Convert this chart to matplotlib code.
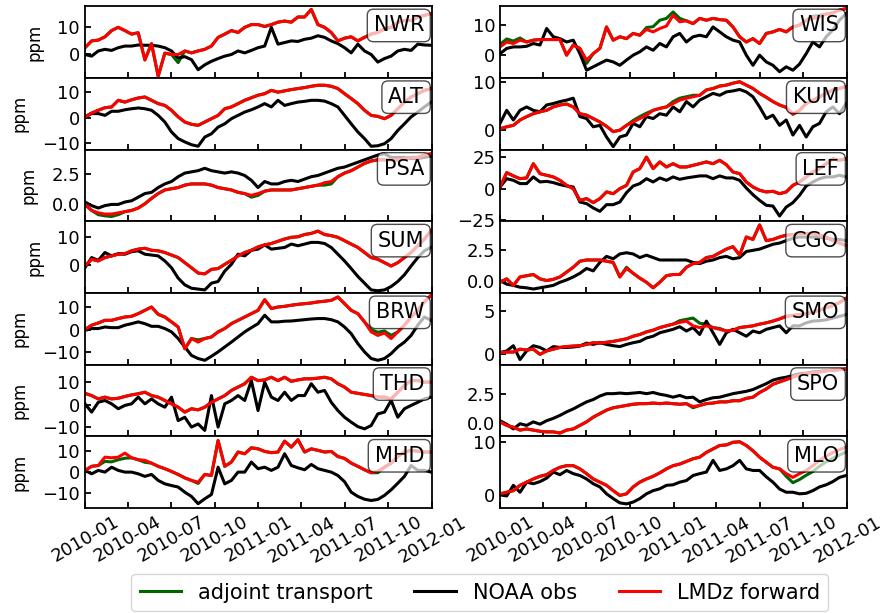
import numpy as np
import pandas as pd
import matplotlib
matplotlib.use('Agg')
import matplotlib.pyplot as plt
import matplotlib.dates as mdates

plt.rcParams['axes.linewidth'] = 1.3

# two-weekly samples, Jan 2010 - Dec 2011
dates = pd.date_range('2010-01-01', periods=53, freq='14D')

left_sites = ['NWR', 'ALT', 'PSA', 'SUM', 'BRW', 'THD', 'MHD']
right_sites = ['WIS', 'KUM', 'LEF', 'CGO', 'SMO', 'SPO', 'MLO']

# NOAA observations (ppm)
obs_nwr = [0, -0.6, 1.3, 1.9, 1.5, 2.5, 3.1, 3.1, 3.5, 3.4, 3.4, 3.1, 2.5, 1.3, -1.3, -0.8, -1.9, -5.6, -3.8, -2.5,
           -1.5, -0.6, 0, 1.3, 0.6, 1.5, 2.5, 3.1, 10.0, 3.8, 4.4, 5.0, 4.8, 5.6, 6.0, 6.9, 6.3, 5.0, 4.0, 2.5,
           0.6, 3.8, 1.3, 0, -2.8, -1.5, -0.6, 1.3, 1.9, 1.5, 3.8, 3.5, 3.4]
obs_alt = [0.3, 1.6, 1.6, 0.9, 2.5, 2.5, 3.1, 3.5, 3.8, 3.5, 2.9, 0.9, -1.7, -5.6, -8.2, -9.5, -10.6, -11.2, -7.6, -6.3,
           -3.7, -2.4, -0.4, 0.9, 2.2, 3.1, 4.2, 5.5, 4.2, 6.8, 4.8, 5.5, 6.1, 6.4, 6.8, 6.8, 6.5, 5.5, 4.2, 0.9,
           -2.4, -5.6, -8.2, -11.2, -11.0, -10.2, -8.2, -5.0, -2.4, 0.3, 2.2, 4.2, 6.1]
obs_psa = [0.2, -0.1, -0.3, -0.1, 0.0, 0.0, 0.2, 0.3, 0.6, 0.9, 1.0, 1.4, 1.7, 1.9, 2.3, 2.6, 2.7, 2.8, 3.0, 2.8,
           2.7, 2.6, 2.7, 2.6, 2.4, 2.0, 1.4, 1.9, 1.7, 1.7, 1.9, 2.0, 1.9, 2.1, 2.3, 2.4, 2.6, 2.8, 3.0, 3.1,
           3.3, 3.5, 3.7, 3.9, 4.1, 4.2, 3.9, 3.9, 3.9, 3.8, 3.8, 3.9, 4.0]
obs_sum = [-0.8, 2.8, 1.8, 4.6, 3.4, 4.2, 4.0, 4.9, 5.2, 4.0, 3.7, 3.4, 1.6, -0.8, -4.5, -6.9, -8.1, -8.4, -8.7, -6.3,
           -5.7, -2.0, 0.4, 4.0, 3.4, 5.4, 5.8, 7.3, 5.8, 6.1, 6.4, 7.6, 7.0, 7.6, 8.2, 8.2, 7.8, 6.4, 4.0, 1.6,
           -1.1, -3.9, -6.3, -8.7, -9.0, -8.7, -7.5, -5.7, -3.3, -0.2, 2.8, 5.2, 6.4]
obs_brw = [-0.3, 0.5, 0.5, 1.2, 0.9, 0.9, 2.0, 2.7, 3.5, 2.7, 1.5, 1.5, 0.5, -1.0, -4.0, -7.8, -11.6, -13.0, -13.8, -12.0,
           -10.0, -7.8, -5.6, -3.3, -1.0, 0.9, 2.7, 6.5, 3.5, 3.5, 3.8, 3.9, 4.2, 4.5, 4.8, 5.0, 5.0, 4.5, 3.5, 1.2,
           -1.8, -6.3, -10.0, -13.0, -13.8, -13.0, -10.8, -7.8, -5.6, -2.6, 2.0, 5.7, 4.2]
obs_thd = [0.3, -3.4, 1.0, 1.8, 0.3, -1.9, -0.4, 0.3, 3.3, 0.3, 2.5, 0.3, -1.2, 3.3, -7.2, -5.7, -10.1, -8.7, -11.6, 4.0,
           -10.1, 0.3, 1.8, 4.0, 1.8, 10.7, -2.7, 10.0, 3.3, 1.8, 5.5, 1.8, 4.0, 4.0, 9.3, 5.5, 6.3, 1.0, -2.7, -5.7,
           -7.9, -9.9, -10.9, -9.4, -4.2, -3.4, 1.8, -5.7, -1.9, -0.4, 1.0, 2.5, 3.3]
obs_mhd = [0.8, -0.8, 0.8, 0.0, 2.3, 0.8, 0.0, 0.0, -0.8, -2.0, -1.1, -3.9, -5.5, -6.3, -7.0, -9.4, -11.4, -14.8, -12.5, -10.5,
           2.3, -5.5, -3.9, 0.0, 0.0, 4.7, 1.6, 2.3, 0.8, 2.3, 8.6, 3.1, 2.0, 1.1, 3.6, 1.6, 0.8, 0.0, -1.6, -4.5,
           -9.4, -11.4, -12.7, -13.3, -12.8, -10.9, -8.3, -5.2, -2.0, 3.1, 0.8, 0.8, 0.0]
obs_wis = [0.5, 2.2, 2.7, 2.7, 2.9, 3.8, 3.3, 8.7, 6.0, 5.4, 4.3, 4.9, 0.5, -4.9, -3.8, -2.7, -1.6, -2.2, -3.3, -1.6,
           0.0, 1.1, 2.7, 1.6, 3.8, 2.7, 6.0, 7.1, 4.3, 6.0, 6.5, 6.0, 9.2, 7.6, 6.0, 4.9, 4.3, 0.0, -3.3, 0.0,
           -2.2, -3.3, -5.4, -3.8, -4.9, -2.9, 0.5, 4.3, 2.7, 6.0, 8.2, 11.4, 13.6]
obs_kum = [1.4, 4.1, 2.1, 4.1, 4.8, 4.1, 3.8, 5.2, 5.5, 5.9, 6.2, 6.6, 2.8, 2.4, 0.7, 1.0, -1.4, -3.4, -1.4, -1.0,
           1.4, 0.7, 2.8, 2.4, 3.4, 3.1, 4.8, 3.8, 5.9, 4.8, 6.2, 6.9, 7.6, 7.2, 7.9, 8.1, 8.4, 7.9, 6.9, 4.8,
           2.4, 3.1, 1.0, 2.1, -1.0, 1.0, -1.4, 0.7, 1.4, 3.8, 4.8, 3.4, 5.5]
obs_lef = [1.3, 7.9, 6.6, 4.0, 4.0, 9.3, 5.3, 5.8, 4.8, 3.2, 2.1, 1.3, -10.6, -11.9, -15.3, -18.0, -12.7, -12.7, -10.6, -3.2,
           2.1, 4.0, 7.9, 5.3, 8.5, 6.6, 9.3, 7.4, 8.5, 9.3, 10.1, 10.1, 7.9, 10.1, 8.5, 8.5, 6.6, 0.5, -4.8, -9.3,
           -13.2, -13.8, -21.7, -14.6, -11.1, -5.3, 2.1, 5.3, 7.9, 9.3, 9.3, 10.6, 9.3]
obs_cgo = [0.0, -0.3, -0.4, -0.55, -0.6, -0.7, -0.6, -0.5, -0.4, -0.14, 0.05, 0.3, 0.6, 1.0, 0.8, 1.5, 2.0, 1.8, 2.2, 2.3,
           2.2, 1.9, 2.1, 1.9, 1.7, 1.7, 1.7, 1.7, 1.7, 1.5, 1.4, 1.6, 1.7, 1.9, 2.0, 1.8, 1.9, 2.4, 2.5, 2.6,
           2.8, 3.0, 3.1, 3.3, 3.5, 3.6, 3.6, 3.6, 3.6, 3.5, 3.4, 3.4, 3.3]
obs_smo = [0.2, 0.4, 1.0, -0.6, 0.4, 1.0, 0.8, 0.4, 0.9, 0.8, 0.8, 0.85, 0.96, 1.3, 1.15, 1.35, 1.15, 1.0, 0.9, 1.15,
           1.35, 1.5, 1.9, 2.1, 2.5, 2.7, 2.9, 3.2, 2.7, 3.1, 2.3, 3.85, 2.5, 1.15, 2.5, 2.9, 2.5, 2.1, 2.7, 2.5,
           2.9, 3.1, 3.3, 2.5, 3.3, 3.3, 3.65, 3.85, 3.9, 4.0, 4.2, 4.4, 4.6]
obs_spo = [0.2, -0.1, -0.5, -0.06, -0.2, 0.1, -0.1, 0.2, 0.4, 0.65, 0.95, 1.2, 1.5, 1.8, 2.0, 2.3, 2.5, 2.5, 2.55, 2.5,
           2.55, 2.6, 2.5, 2.6, 2.45, 2.35, 2.2, 2.35, 2.15, 2.2, 1.8, 2.0, 2.15, 2.2, 2.35, 2.5, 2.6, 2.7, 2.85, 3.1,
           3.35, 3.65, 3.8, 3.9, 4.05, 4.2, 4.25, 4.35, 4.4, 4.45, 4.5, 4.55, 4.6]
obs_mlo = [0.1, -0.1, 1.9, 0.6, 2.5, 2.2, 2.6, 3.25, 4.4, 3.9, 4.7, 4.1, 3.75, 3.1, 2.2, 1.6, 0.3, -0.6, -1.4, -1.6,
           -1.25, -0.6, 0.3, 0.9, 1.25, 1.9, 2.0, 2.5, 2.8, 3.75, 4.1, 4.4, 6.6, 4.7, 5.0, 5.6, 6.6, 5.0, 4.7, 4.7,
           3.5, 2.5, 1.2, 0.6, 0.6, 0.3, 0.4, 0.9, 1.6, 2.0, 2.6, 3.4, 3.75]

# LMDz forward run (ppm)
fwd_nwr = [2.5, 5.0, 5.3, 6.5, 8.8, 10.0, 8.8, 7.5, 8.0, -2.0, 4.0, -8.0, 0.5, 0.0, 0.0, 1.3, 0.6, 1.3, 1.9, 3.1,
           6.3, 7.5, 8.8, 8.1, 10.0, 11.0, 11.0, 10.3, 11.0, 11.9, 12.3, 11.9, 13.8, 13.8, 16.6, 11.0, 10.0, 8.1, 5.0, 6.0,
           6.5, 5.0, 6.3, 7.5, 8.1, 9.4, 10.0, 11.9, 12.5, 12.5, 13.8, 14.4, 15.0]
fwd_alt = [0.3, 1.8, 2.9, 3.9, 4.2, 6.8, 6.1, 7.0, 7.7, 8.1, 6.8, 5.5, 4.8, 2.9, 0.3, -1.7, -2.6, -3.0, -1.7, -0.4,
           0.9, 3.5, 4.2, 5.5, 6.8, 7.8, 8.8, 9.4, 10.7, 10.0, 10.5, 11.0, 11.4, 11.8, 12.3, 12.7, 12.7, 12.3, 11.4, 9.4,
           7.5, 5.5, 2.9, 0.9, 0.5, -0.4, 0.9, 3.5, 6.1, 8.1, 9.4, 10.7, 11.4]
fwd_psa = [0.0, -0.5, -0.7, -0.8, -0.8, -0.7, -0.6, -0.5, -0.3, 0.05, 0.5, 0.9, 1.2, 1.3, 1.4, 1.6, 1.7, 1.7, 1.7, 1.6,
           1.4, 1.3, 1.2, 1.0, 0.9, 0.75, 0.9, 1.1, 1.2, 1.2, 1.2, 1.2, 1.3, 1.4, 1.5, 1.6, 1.8, 1.9, 2.3, 2.6,
           2.8, 3.1, 3.4, 3.6, 3.7, 3.7, 3.7, 3.7, 3.8, 3.9, 3.9, 4.1, 4.2]
fwd_sum = [-0.2, 2.2, 1.6, 2.8, 3.4, 4.0, 4.2, 5.2, 5.8, 6.1, 5.4, 5.2, 4.6, 3.7, 2.8, 1.0, -0.8, -2.7, -3.0, -1.4,
           -1.1, 0.4, 1.8, 3.4, 4.6, 5.4, 6.6, 7.3, 7.8, 8.6, 9.4, 10.0, 10.2, 11.0, 11.4, 12.2, 11.0, 10.6, 10.0, 8.8,
           7.6, 6.4, 4.6, 2.8, 2.2, 1.0, -0.2, 1.0, 2.8, 4.6, 7.0, 9.4, 12.4]
fwd_brw = [0.0, 2.0, 3.0, 4.2, 4.2, 5.0, 5.7, 6.0, 7.2, 8.7, 10.2, 6.9, 5.7, 3.5, 1.2, -8.6, -4.0, -5.6, -4.0, -3.3,
           -1.0, 0.5, 2.7, 4.2, 5.7, 7.2, 8.7, 13.5, 9.5, 10.2, 10.5, 11.0, 11.4, 11.7, 12.0, 12.5, 12.8, 13.2, 14.7, 11.7,
           8.7, 7.2, 3.5, -1.0, -2.6, -1.5, -4.0, -1.0, 2.0, 5.7, 8.7, 12.5, 15.5]
fwd_thd = [5.0, 4.0, 2.5, 3.3, 2.5, 2.8, 3.6, 4.3, 4.8, 5.5, 4.0, 3.3, 1.8, 0.3, -1.2, -3.4, -1.9, -2.4, -1.2, 1.0,
           2.5, 4.0, 6.3, 7.8, 9.3, 12.2, 10.7, 11.0, 12.2, 10.7, 12.2, 10.4, 11.0, 11.5, 11.5, 11.8, 12.2, 11.5, 9.3, 7.8,
           5.5, 5.0, 4.5, 4.0, 3.3, 3.3, 2.5, 5.5, 8.5, 10.7, 10.7, 10.0, 10.0]
fwd_mhd = [0.8, 2.7, 3.1, 7.0, 6.7, 7.0, 8.9, 6.7, 5.8, 5.5, 4.2, 2.7, 1.6, 0.3, -1.1, -2.7, -3.9, -4.7, -1.1, -1.6,
           14.8, 2.7, 4.7, 9.4, 8.6, 11.4, 10.9, 9.7, 9.1, 9.4, 14.5, 11.7, 15.2, 9.4, 10.9, 10.2, 9.4, 9.7, 7.3, 6.4,
           4.2, 2.7, 1.1, -0.3, 0.5, 2.3, 4.2, 7.3, 9.4, 10.2, 9.8, 9.4, 9.4]
fwd_wis = [2.7, 4.3, 3.8, 4.9, 4.3, 4.9, 5.1, 5.1, 5.1, 5.1, 0.0, 3.3, 2.2, -1.6, 0.5, 2.2, 9.2, 4.9, 6.0, 5.4,
           7.1, 6.5, 8.4, 7.6, 8.7, 9.5, 13.0, 10.9, 11.2, 10.3, 12.0, 11.4, 12.0, 11.6, 11.4, 9.2, 6.0, 4.3, 5.4, 3.8,
           7.1, 7.6, 8.4, 7.6, 9.2, 9.8, 11.4, 12.0, 12.5, 13.4, 13.8, 14.7, 15.2]
fwd_kum = [0.3, 0.7, 1.0, 2.1, 2.8, 3.4, 3.8, 4.1, 4.8, 5.2, 5.4, 4.8, 3.4, 3.1, 2.4, 1.7, 0.8, -0.3, 0.0, 1.0,
           1.7, 2.4, 3.1, 4.1, 4.5, 4.8, 5.5, 6.2, 6.6, 6.9, 7.2, 8.3, 8.6, 9.1, 9.3, 9.7, 10.0, 9.3, 8.6, 7.6,
           6.8, 5.9, 5.2, 4.7, 3.3, 4.1, 5.5, 6.2, 6.9, 7.6, 8.3, 8.6, 9.0]
fwd_lef = [1.3, 12.7, 10.1, 7.9, 8.5, 19.8, 11.9, 10.6, 9.3, 6.6, 2.6, 0.0, -9.3, -7.9, -11.1, -7.9, -2.6, -4.0, 0.0, 2.6,
           13.2, 15.9, 25.0, 15.9, 21.2, 17.2, 19.8, 17.2, 17.2, 18.5, 19.8, 21.2, 19.8, 22.5, 19.0, 13.2, 11.9, 5.3, 1.3, -1.3,
           -2.6, -2.1, -4.0, -2.6, 2.6, 5.3, 9.3, 13.2, 15.9, 19.8, 23.8, 22.5, 23.8]
fwd_cgo = [-0.14, 0.14, -0.4, 0.3, 0.4, 0.5, 0.14, 0.0, 0.1, 0.3, 0.7, 1.1, 1.6, 1.7, 1.7, 1.7, 1.6, 1.5, 0.3, 1.0,
           0.6, 0.2, -0.14, -0.6, -0.14, 0.4, 0.5, 0.5, 1.1, 1.4, 1.5, 1.9, 2.0, 2.3, 2.6, 2.8, 2.1, 3.6, 3.4, 4.6,
           3.3, 3.4, 3.6, 3.75, 3.8, 3.9, 3.9, 3.9, 3.75, 3.6, 3.3, 3.1, 2.9]
fwd_smo = [0.2, 0.27, 0.27, 0.6, 0.5, 0.6, 0.0, 0.4, 0.6, 0.8, 0.9, 0.96, 1.0, 1.15, 1.35, 1.3, 1.4, 1.5, 1.65, 1.8,
           2.1, 2.3, 2.6, 2.8, 3.1, 3.3, 3.5, 3.7, 3.85, 3.3, 3.1, 3.3, 3.1, 2.9, 2.7, 2.8, 3.1, 3.2, 3.3, 3.5,
           3.65, 3.85, 4.1, 4.4, 4.5, 4.6, 4.7, 4.9, 5.1, 5.4, 5.65, 6.0, 6.5]
fwd_spo = [0.1, -0.2, -0.35, -0.6, -0.5, -0.6, -0.7, -0.75, -0.75, -0.85, -0.6, -0.5, -0.2, 0.1, 0.5, 0.8, 1.1, 1.3, 1.4, 1.5,
           1.6, 1.65, 1.65, 1.7, 1.65, 1.7, 1.65, 1.6, 1.65, 1.4, 1.5, 1.65, 1.7, 1.8, 1.8, 1.9, 1.9, 2.1, 2.2, 2.6,
           2.9, 3.3, 3.5, 3.7, 3.9, 4.1, 4.2, 4.3, 4.35, 4.45, 4.5, 4.55, 4.6]
fwd_mlo = [0.3, 0.6, 0.9, 1.9, 2.5, 3.1, 3.6, 3.9, 4.7, 5.3, 5.6, 5.6, 5.0, 4.1, 3.1, 2.5, 1.9, 0.9, 0.0, 0.3,
           1.6, 2.5, 3.1, 3.6, 4.25, 5.0, 5.6, 5.9, 6.4, 6.9, 7.2, 8.1, 8.75, 9.4, 9.5, 10.0, 10.1, 9.4, 8.4, 7.2,
           6.25, 5.3, 5.0, 4.1, 3.4, 4.1, 4.7, 5.6, 6.6, 7.4, 8.1, 8.6, 9.1]

# adjoint transport: same as forward except at these samples
adj_nwr = {14: -3.0}
adj_psa = {2: -0.85, 3: -0.95, 4: -1.0, 5: -0.85, 25: 0.6, 26: 0.75, 36: 1.6, 37: 1.7}
adj_brw = {17: -4.6, 43: 0.0, 44: -1.2, 45: -0.6, 46: -2.6}
adj_mhd = {3: 5.0, 4: 4.8, 5: 5.8, 6: 6.5, 9: 4.6, 17: -5.3, 44: -0.3}
adj_wis = {0: 3.5, 1: 5.3, 2: 4.6, 3: 5.6, 13: -2.7, 22: 9.0, 23: 9.3, 24: 11.4, 25: 12.0, 26: 14.1, 27: 12.0,
           47: 12.7, 48: 13.0}
adj_kum = {20: 2.0, 21: 2.8, 22: 3.5, 26: 5.9, 27: 6.6, 28: 6.9, 29: 7.2}
adj_cgo = {19: 1.1}
adj_smo = {27: 3.9, 28: 4.05, 29: 4.2, 30: 3.6, 31: 3.5, 33: 3.0}
adj_spo = {29: 1.3}
adj_mlo = {43: 3.6, 44: 2.4, 45: 3.0, 46: 3.8, 47: 4.5, 48: 5.5, 49: 6.3, 50: 7.0, 51: 7.6, 52: 8.2}

obs = {'NWR': obs_nwr, 'ALT': obs_alt, 'PSA': obs_psa, 'SUM': obs_sum, 'BRW': obs_brw, 'THD': obs_thd,
       'MHD': obs_mhd, 'WIS': obs_wis, 'KUM': obs_kum, 'LEF': obs_lef, 'CGO': obs_cgo, 'SMO': obs_smo,
       'SPO': obs_spo, 'MLO': obs_mlo}
fwd = {'NWR': fwd_nwr, 'ALT': fwd_alt, 'PSA': fwd_psa, 'SUM': fwd_sum, 'BRW': fwd_brw, 'THD': fwd_thd,
       'MHD': fwd_mhd, 'WIS': fwd_wis, 'KUM': fwd_kum, 'LEF': fwd_lef, 'CGO': fwd_cgo, 'SMO': fwd_smo,
       'SPO': fwd_spo, 'MLO': fwd_mlo}
adj_pts = {'NWR': adj_nwr, 'PSA': adj_psa, 'BRW': adj_brw, 'MHD': adj_mhd, 'WIS': adj_wis, 'KUM': adj_kum,
           'CGO': adj_cgo, 'SMO': adj_smo, 'SPO': adj_spo, 'MLO': adj_mlo}

ylims = {'NWR': (-8.6, 17.8), 'ALT': (-12.5, 15.6), 'PSA': (-1.4, 4.55), 'SUM': (-9.8, 15.7),
         'BRW': (-15.8, 16.5), 'THD': (-14.3, 17.8), 'MHD': (-16.9, 16.7),
         'WIS': (-7.4, 16.0), 'KUM': (-4.0, 10.8), 'LEF': (-25.9, 31.0), 'CGO': (-1.03, 4.9),
         'SMO': (-1.2, 7.1), 'SPO': (-1.14, 4.96), 'MLO': (-2.4, 11.1)}
yticks = {'NWR': [0, 10], 'ALT': [-10, 0, 10], 'PSA': [0.0, 2.5], 'SUM': [0, 10], 'BRW': [-10, 0, 10],
          'THD': [-10, 0, 10], 'MHD': [-10, 0, 10], 'WIS': [0, 10], 'KUM': [0, 10], 'LEF': [-25, 0, 25],
          'CGO': [0.0, 2.5], 'SMO': [0, 5], 'SPO': [0.0, 2.5], 'MLO': [0, 10]}

fig, axes = plt.subplots(7, 2, figsize=(8.87, 6.13), dpi=100, sharex='col')
fig.subplots_adjust(left=0.0958, right=0.955, top=0.990, bottom=0.171, wspace=0.196, hspace=0)

for col, sites in enumerate([left_sites, right_sites]):
    for row, site in enumerate(sites):
        ax = axes[row, col]
        adj = list(fwd[site])
        for k, v in adj_pts.get(site, {}).items():
            adj[k] = v
        ax.plot(dates, adj, color='darkgreen', lw=2.2, label='adjoint transport')
        ax.plot(dates, obs[site], color='k', lw=2.2, label='NOAA obs')
        ax.plot(dates, fwd[site], color='red', lw=2.2, label='LMDz forward')
        ax.text(0.977, 0.87, site, transform=ax.transAxes, ha='right', va='top', fontsize=15,
                bbox=dict(boxstyle='round', facecolor='white', alpha=0.7))
        ax.set_ylim(ylims[site])
        ax.set_yticks(yticks[site])
        ax.tick_params(direction='in', labelsize=13, width=1.3, length=4.5)
        if col == 0:
            ax.set_ylabel('ppm', fontsize=12, labelpad=10)
    ax = axes[-1, col]
    ax.set_xlim(pd.Timestamp('2010-01-01'), pd.Timestamp('2012-01-01'))
    ax.xaxis.set_major_locator(mdates.MonthLocator(bymonth=[1, 4, 7, 10]))
    ax.xaxis.set_major_formatter(mdates.DateFormatter('%Y-%m'))
    plt.setp(ax.get_xticklabels(), rotation=30)

handles, labels = axes[0, 0].get_legend_handles_labels()
fig.legend(handles, labels, loc='lower center', bbox_to_anchor=(0.541, 0.0), ncol=3, fontsize=15,
           borderaxespad=0.1)

fig.savefig('out.png', dpi=100)
